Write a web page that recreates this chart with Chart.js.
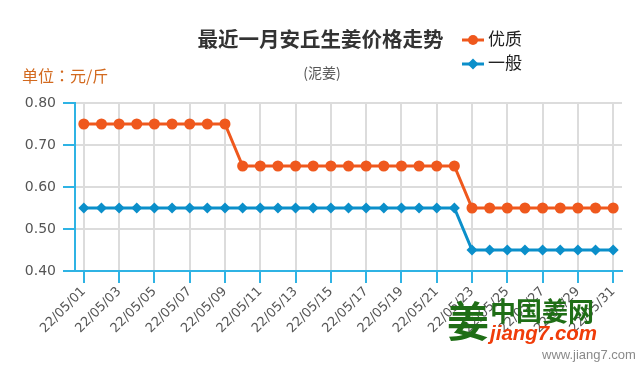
<!DOCTYPE html>
<html>
<head>
<meta charset="utf-8">
<script src="https://cdn.jsdelivr.net/npm/chart.js@4/dist/chart.umd.min.js"></script>
<style>
  html, body { margin: 0; padding: 0; background: #fff; }
  #wrap { position: relative; width: 644px; height: 384px; overflow: hidden; font-family: "Noto Sans CJK SC", "DejaVu Sans", sans-serif; }
  #c { position: absolute; left: 0; top: 0; }
  .t { position: absolute; white-space: nowrap; }
  #title { left: 0; width: 644px; top: 24px; text-align: center; font-size: 20.5px; font-weight: bold; color: #333; line-height: 28px; }
  #title span { margin-left: -3px; }
  #sub { left: 0; width: 644px; top: 62px; text-align: center; font-size: 14px; color: #555; line-height: 20px; }
  #unit { left: 22px; top: 64px; font-size: 16px; color: #d2691e; line-height: 22px; font-family: "Noto Sans CJK TC", "Noto Sans CJK SC", sans-serif; }
  .leg { position: absolute; left: 462px; font-size: 17px; color: #222; line-height: 22px; }
  .leg svg { vertical-align: middle; margin-right: 4px; }
  #wm1 { left: 447px; top: 293px; font-size: 42px; font-weight: bold; color: #1f6e16; line-height: 52px; }
  #wm2 { left: 490px; top: 295px; font-size: 26px; font-weight: bold; color: #1f6e16; line-height: 30px; }
  #wm3 { left: 490px; top: 320px; font-size: 20.5px; font-weight: bold; font-style: italic; color: #f03c0a; line-height: 26px; font-family: "Liberation Sans", sans-serif; }
  #wm4 { left: 542px; top: 347px; font-size: 13px; color: #8a8a8a; line-height: 16px; font-family: "Liberation Sans", sans-serif; }
</style>
</head>
<body>
<div id="wrap">
  <canvas id="c" width="644" height="384"></canvas>
  <div class="t" id="title"><span id="titleText"></span></div>
  <div class="t" id="sub"></div>
  <div class="t" id="unit" lang="zh-TW"></div>
  <div class="leg" id="leg0" style="top:27px"></div>
  <div class="leg" id="leg1" style="top:51px"></div>
  <div class="t" id="wm1">姜</div>
  <div class="t" id="wm2">中国姜网</div>
  <div class="t" id="wm3">jiang7.com</div>
  <div class="t" id="wm4">www.jiang7.com</div>
</div>
<script>
// ---- data ----
const titleText = "最近一月安丘生姜价格走势";
const subtitleText = "(泥姜)";
const unitText = "单位：元/斤";
const categories = [
  "22/05/01","22/05/02","22/05/03","22/05/04","22/05/05","22/05/06","22/05/07","22/05/08",
  "22/05/09","22/05/10","22/05/11","22/05/12","22/05/13","22/05/14","22/05/15","22/05/16",
  "22/05/17","22/05/18","22/05/19","22/05/20","22/05/21","22/05/22","22/05/23","22/05/24",
  "22/05/25","22/05/26","22/05/27","22/05/28","22/05/29","22/05/30","22/05/31"
];
const seriesNames = ["优质", "一般"];
const premium = [
  0.75,0.75,0.75,0.75,0.75,0.75,0.75,0.75,0.75,
  0.65,0.65,0.65,0.65,0.65,0.65,0.65,0.65,0.65,0.65,0.65,0.65,0.65,
  0.55,0.55,0.55,0.55,0.55,0.55,0.55,0.55,0.55
];
const ordinary = [
  0.55,0.55,0.55,0.55,0.55,0.55,0.55,0.55,0.55,
  0.55,0.55,0.55,0.55,0.55,0.55,0.55,0.55,0.55,0.55,0.55,0.55,0.55,
  0.45,0.45,0.45,0.45,0.45,0.45,0.45,0.45,0.45
];
const yTicks = [0.40, 0.50, 0.60, 0.70, 0.80];

// ---- styles ----
const ORANGE = "#ef581d";
const BLUE = "#0b8fca";
const AXIS = "#2fb3e4";
const GRID = "#dcdcdc";

document.getElementById("titleText").textContent = titleText;
document.getElementById("sub").textContent = subtitleText;
document.getElementById("unit").textContent = unitText;

function legendIcon(color, shape) {
  const mark = shape === "circle"
    ? `<circle cx="11" cy="7" r="5" fill="${color}"/>`
    : `<polygon points="11,1.5 16.5,7 11,12.5 5.5,7" fill="${color}"/>`;
  return `<svg width="22" height="14"><line x1="0" y1="7" x2="22" y2="7" stroke="${color}" stroke-width="3"/>${mark}</svg>`;
}
document.getElementById("leg0").innerHTML = legendIcon(ORANGE, "circle") + seriesNames[0];
document.getElementById("leg1").innerHTML = legendIcon(BLUE, "diamond") + seriesNames[1];

new Chart(document.getElementById("c"), {
  type: "line",
  data: {
    labels: categories,
    datasets: [
      {
        label: seriesNames[0], data: premium,
        borderColor: ORANGE, backgroundColor: ORANGE, borderWidth: 3,
        pointStyle: "circle", pointRadius: 5.5, pointHoverRadius: 5.5,
        pointBorderWidth: 0, tension: 0
      },
      {
        label: seriesNames[1], data: ordinary,
        borderColor: BLUE, backgroundColor: BLUE, borderWidth: 3,
        pointStyle: "rectRot", pointRadius: 5.5, pointHoverRadius: 5.5,
        pointBorderWidth: 0, tension: 0
      }
    ]
  },
  options: {
    responsive: false,
    animation: false,
    devicePixelRatio: 1,
    layout: { padding: { top: 103, right: 22, left: 0, bottom: 0 } },
    plugins: { legend: { display: false }, title: { display: false }, tooltip: { enabled: false } },
    scales: {
      x: {
        type: "category",
        offset: true,
        border: { color: AXIS, width: 2 },
        grid: {
          offset: false,
          lineWidth: 2,
          tickLength: 12,
          color: (ctx) => (ctx.index % 2 === 0 ? GRID : "rgba(0,0,0,0)"),
          tickColor: (ctx) => (ctx.index % 2 === 0 ? AXIS : "rgba(0,0,0,0)"),
          tickWidth: 2
        },
        ticks: {
          autoSkip: false,
          maxRotation: 45, minRotation: 45,
          padding: 1,
          color: "#555",
          font: { family: "DejaVu Sans", size: 13 },
          callback: function (v, i) { return i % 2 === 0 ? this.getLabelForValue(v) : ""; }
        },
        afterFit: (s) => { s.height = 113; s.paddingLeft = 0; s.paddingRight = 0; }
      },
      y: {
        min: yTicks[0], max: yTicks[yTicks.length - 1],
        border: { color: AXIS, width: 2 },
        grid: { color: GRID, lineWidth: 2, tickLength: 12, tickColor: AXIS, tickWidth: 2 },
        afterBuildTicks: (s) => { s.ticks = yTicks.map((v) => ({ value: v })); },
        ticks: {
          padding: 7,
          color: "#555",
          font: { family: "DejaVu Sans", size: 14 },
          callback: (v) => Number(v).toFixed(2)
        },
        afterFit: (s) => { s.width = 75; }
      }
    }
  }
});
</script>
</body>
</html>
